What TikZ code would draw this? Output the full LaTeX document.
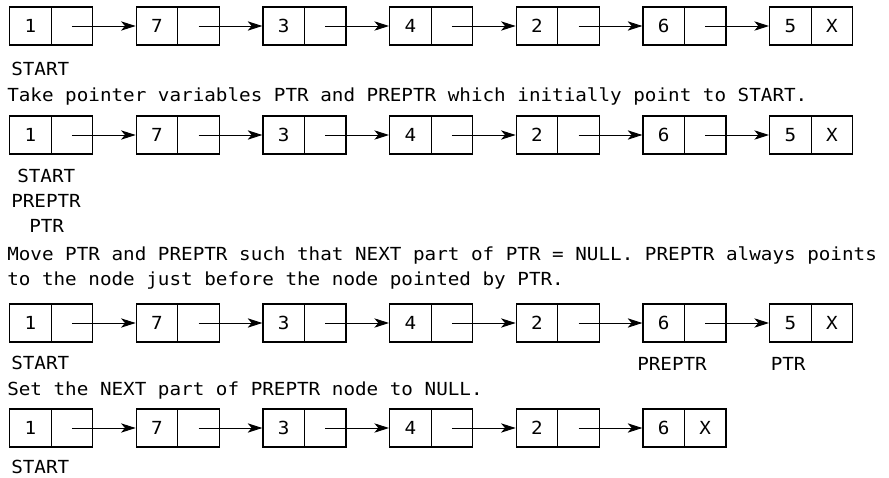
\documentclass[tikz,border=0pt]{standalone}
\usepackage{fontspec}
\setmonofont[FakeStretch=1.07]{DejaVu Sans Mono}
\usetikzlibrary{arrows.meta}
\begin{document}
\begin{tikzpicture}[x=0.75pt,y=-0.75pt,
  font=\ttfamily\fontsize{13.5}{16}\selectfont,
  cell/.style={draw, line width=0.9pt, minimum width=31.125pt, minimum height=28.5pt, inner sep=0pt, anchor=west},
  link/.style={-{Stealth[length=11pt,width=7pt,inset=3pt]}, line width=0.7pt},
  txt/.style={anchor=base west, inner sep=0pt}]
\useasboundingbox (0,0) rectangle (889,478);
% rows with seven nodes
\foreach \r/\y in {a/26,b/135,c/323} {
  \foreach \v [count=\i] in {1,7,3,4,2,6,5} {
    \node[cell] (\r v\i) at ({9+126.67*(\i-1)},\y) {\v};
  }
  \foreach \i in {1,...,6} {
    \node[cell] (\r p\i) at ({50.5+126.67*(\i-1)},\y) {};
  }
  \node[cell] (\r p7) at ({50.5+126.67*6},\y) {X};
  \foreach \i in {1,...,6} {
    \pgfmathtruncatemacro\j{\i+1}
    \draw[link] (\r p\i.center) -- (\r v\j.west);
  }
}
% last row with six nodes
\foreach \v [count=\i] in {1,7,3,4,2,6} {
  \node[cell] (dv\i) at ({9+126.67*(\i-1)},428) {\v};
}
\foreach \i in {1,...,5} {
  \node[cell] (dp\i) at ({50.5+126.67*(\i-1)},428) {};
}
\node[cell] (dp6) at ({50.5+126.67*5},428) {X};
\foreach \i in {1,...,5} {
  \pgfmathtruncatemacro\j{\i+1}
  \draw[link] (dp\i.center) -- (dv\j.west);
}
% texts
\node[txt] (s1) at (11,75) {START};
\node[txt] (t1) at (7,102) {Take pointer variables PTR and PREPTR which initially point to START.};
\node[txt] (s2) at (17,182) {START};
\node[txt] (pp2) at (11,207) {PREPTR};
\node[txt] (p2) at (29,232) {PTR};
\node[txt] (t2) at (7,260) {Move PTR and PREPTR such that NEXT part of PTR = NULL. PREPTR always points};
\node[txt] (t3) at (7,285) {to the node just before the node pointed by PTR.};
\node[txt] (s3) at (11,369.5) {START};
\node[txt] (pp3) at (637,370) {PREPTR};
\node[txt] (p3) at (770.5,370) {PTR};
\node[txt] (t4) at (7,395) {Set the NEXT part of PREPTR node to NULL.};
\node[txt] (s4) at (11,473) {START};
\end{tikzpicture}
\end{document}
